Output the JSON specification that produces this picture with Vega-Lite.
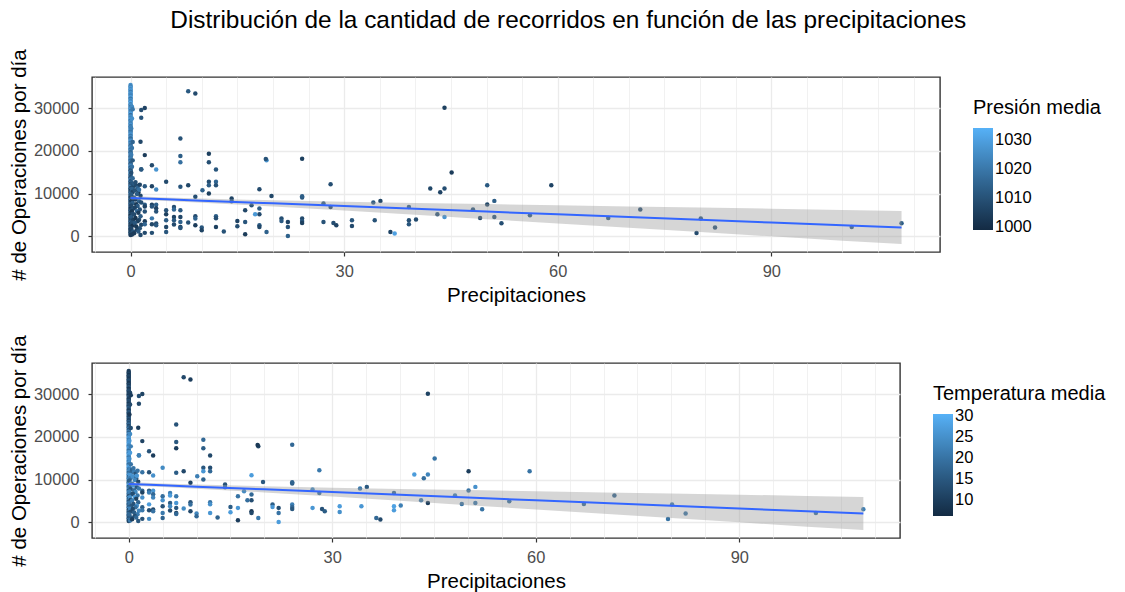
{
  "$schema": "https://vega.github.io/schema/vega-lite/v6.json",
  "padding": {"left": 8, "top": 7, "right": 5, "bottom": 5},
  "background": "white",
  "title": {
    "text": "Distribución de la cantidad de recorridos en función de las precipitaciones",
    "fontSize": 24.4,
    "fontWeight": "normal",
    "font": "Liberation Sans",
    "color": "#000000",
    "anchor": "middle",
    "offset": 15
  },
  "datasets": {
    "dias": [
      {"prec": 0, "ops": 35480, "pres": 1026, "temp": 10},
      {"prec": 0, "ops": 35150, "pres": 1022, "temp": 9},
      {"prec": 0, "ops": 34820, "pres": 1028, "temp": 11},
      {"prec": 0, "ops": 34500, "pres": 1024, "temp": 8},
      {"prec": 0, "ops": 34170, "pres": 1030, "temp": 12},
      {"prec": 0, "ops": 33900, "pres": 1021, "temp": 10},
      {"prec": 0, "ops": 33560, "pres": 1027, "temp": 9},
      {"prec": 0, "ops": 33250, "pres": 1025, "temp": 13},
      {"prec": 0, "ops": 32930, "pres": 1023, "temp": 11},
      {"prec": 0, "ops": 32600, "pres": 1029, "temp": 8},
      {"prec": 0, "ops": 32280, "pres": 1020, "temp": 12},
      {"prec": 0, "ops": 31950, "pres": 1026, "temp": 10},
      {"prec": 0, "ops": 31640, "pres": 1024, "temp": 14},
      {"prec": 0, "ops": 31300, "pres": 1031, "temp": 9},
      {"prec": 0, "ops": 30980, "pres": 1022, "temp": 11},
      {"prec": 0, "ops": 30650, "pres": 1027, "temp": 13},
      {"prec": 0, "ops": 30330, "pres": 1019, "temp": 10},
      {"prec": 0, "ops": 30010, "pres": 1025, "temp": 12},
      {"prec": 0, "ops": 29700, "pres": 1028, "temp": 9},
      {"prec": 0, "ops": 29380, "pres": 1021, "temp": 15},
      {"prec": 0, "ops": 29050, "pres": 1024, "temp": 11},
      {"prec": 0, "ops": 28730, "pres": 1030, "temp": 10},
      {"prec": 0, "ops": 28420, "pres": 1018, "temp": 13},
      {"prec": 0, "ops": 28090, "pres": 1026, "temp": 12},
      {"prec": 0, "ops": 27760, "pres": 1023, "temp": 9},
      {"prec": 0, "ops": 27450, "pres": 1029, "temp": 14},
      {"prec": 0, "ops": 27120, "pres": 1020, "temp": 11},
      {"prec": 0, "ops": 26800, "pres": 1025, "temp": 16},
      {"prec": 0, "ops": 26470, "pres": 1022, "temp": 12},
      {"prec": 0, "ops": 26150, "pres": 1027, "temp": 10},
      {"prec": 0, "ops": 25830, "pres": 1019, "temp": 15},
      {"prec": 0, "ops": 25500, "pres": 1024, "temp": 13},
      {"prec": 0, "ops": 25170, "pres": 1021, "temp": 11},
      {"prec": 0, "ops": 24850, "pres": 1026, "temp": 17},
      {"prec": 0, "ops": 24530, "pres": 1018, "temp": 12},
      {"prec": 0, "ops": 24200, "pres": 1023, "temp": 14},
      {"prec": 0, "ops": 23880, "pres": 1028, "temp": 10},
      {"prec": 0, "ops": 23560, "pres": 1020, "temp": 16},
      {"prec": 0, "ops": 23240, "pres": 1025, "temp": 13},
      {"prec": 0, "ops": 22910, "pres": 1017, "temp": 18},
      {"prec": 0, "ops": 22600, "pres": 1022, "temp": 12},
      {"prec": 0, "ops": 22270, "pres": 1027, "temp": 15},
      {"prec": 0, "ops": 21950, "pres": 1019, "temp": 20},
      {"prec": 0, "ops": 21620, "pres": 1024, "temp": 14},
      {"prec": 0, "ops": 21300, "pres": 1016, "temp": 22},
      {"prec": 0, "ops": 20980, "pres": 1021, "temp": 17},
      {"prec": 0, "ops": 20650, "pres": 1026, "temp": 25},
      {"prec": 0, "ops": 20330, "pres": 1018, "temp": 19},
      {"prec": 0, "ops": 20000, "pres": 1023, "temp": 24},
      {"prec": 0, "ops": 19680, "pres": 1015, "temp": 27},
      {"prec": 0, "ops": 19360, "pres": 1020, "temp": 23},
      {"prec": 0, "ops": 19030, "pres": 1025, "temp": 21},
      {"prec": 0, "ops": 18710, "pres": 1013, "temp": 26},
      {"prec": 0, "ops": 18380, "pres": 1019, "temp": 28},
      {"prec": 0, "ops": 18060, "pres": 1022, "temp": 24},
      {"prec": 0, "ops": 17740, "pres": 1016, "temp": 22},
      {"prec": 0, "ops": 17410, "pres": 1021, "temp": 27},
      {"prec": 0, "ops": 17090, "pres": 1011, "temp": 25},
      {"prec": 0, "ops": 16770, "pres": 1018, "temp": 20},
      {"prec": 0, "ops": 16440, "pres": 1024, "temp": 26},
      {"prec": 0, "ops": 16120, "pres": 1014, "temp": 23},
      {"prec": 0, "ops": 15800, "pres": 1020, "temp": 28},
      {"prec": 0, "ops": 15470, "pres": 1009, "temp": 24},
      {"prec": 0, "ops": 15150, "pres": 1017, "temp": 21},
      {"prec": 0, "ops": 14830, "pres": 1023, "temp": 27},
      {"prec": 0, "ops": 14500, "pres": 1012, "temp": 25},
      {"prec": 0, "ops": 14180, "pres": 1019, "temp": 22},
      {"prec": 0, "ops": 13860, "pres": 1008, "temp": 26},
      {"prec": 0, "ops": 13530, "pres": 1015, "temp": 19},
      {"prec": 0, "ops": 13210, "pres": 1021, "temp": 24},
      {"prec": 0, "ops": 12890, "pres": 1010, "temp": 28},
      {"prec": 0, "ops": 12560, "pres": 1016, "temp": 23},
      {"prec": 0, "ops": 12240, "pres": 1006, "temp": 20},
      {"prec": 0, "ops": 11920, "pres": 1013, "temp": 25},
      {"prec": 0, "ops": 11600, "pres": 1019, "temp": 18},
      {"prec": 0, "ops": 11270, "pres": 1007, "temp": 22},
      {"prec": 0, "ops": 10950, "pres": 1014, "temp": 26},
      {"prec": 0, "ops": 10620, "pres": 1004, "temp": 17},
      {"prec": 0, "ops": 10300, "pres": 1011, "temp": 21},
      {"prec": 0, "ops": 9980, "pres": 1017, "temp": 24},
      {"prec": 0, "ops": 9650, "pres": 1008, "temp": 19},
      {"prec": 0, "ops": 9330, "pres": 1013, "temp": 15},
      {"prec": 0, "ops": 9010, "pres": 1005, "temp": 22},
      {"prec": 0, "ops": 8690, "pres": 1010, "temp": 27},
      {"prec": 0, "ops": 8360, "pres": 1016, "temp": 16},
      {"prec": 0, "ops": 8040, "pres": 1003, "temp": 20},
      {"prec": 0, "ops": 7710, "pres": 1009, "temp": 23},
      {"prec": 0, "ops": 7390, "pres": 1014, "temp": 14},
      {"prec": 0, "ops": 7070, "pres": 1006, "temp": 25},
      {"prec": 0, "ops": 6740, "pres": 1011, "temp": 18},
      {"prec": 0, "ops": 6420, "pres": 1002, "temp": 21},
      {"prec": 0, "ops": 6100, "pres": 1008, "temp": 13},
      {"prec": 0, "ops": 5770, "pres": 1013, "temp": 24},
      {"prec": 0, "ops": 5450, "pres": 1005, "temp": 17},
      {"prec": 0, "ops": 5130, "pres": 1010, "temp": 20},
      {"prec": 0, "ops": 4800, "pres": 1001, "temp": 15},
      {"prec": 0, "ops": 4480, "pres": 1007, "temp": 22},
      {"prec": 0, "ops": 4160, "pres": 1012, "temp": 12},
      {"prec": 0, "ops": 3830, "pres": 1004, "temp": 19},
      {"prec": 0, "ops": 3510, "pres": 1009, "temp": 16},
      {"prec": 0, "ops": 3190, "pres": 1015, "temp": 23},
      {"prec": 0, "ops": 2860, "pres": 1003, "temp": 11},
      {"prec": 0, "ops": 2540, "pres": 1008, "temp": 18},
      {"prec": 0, "ops": 2220, "pres": 1006, "temp": 14},
      {"prec": 0, "ops": 1890, "pres": 1011, "temp": 20},
      {"prec": 0, "ops": 1570, "pres": 1002, "temp": 12},
      {"prec": 0, "ops": 1250, "pres": 1007, "temp": 17},
      {"prec": 0, "ops": 920, "pres": 1005, "temp": 13},
      {"prec": 0, "ops": 600, "pres": 1010, "temp": 19},
      {"prec": 0, "ops": 280, "pres": 1004, "temp": 11},
      {"prec": 0.2, "ops": 30400, "pres": 1024, "temp": 11},
      {"prec": 0.3, "ops": 29800, "pres": 1020, "temp": 10},
      {"prec": 0.2, "ops": 27600, "pres": 1026, "temp": 12},
      {"prec": 0.1, "ops": 25300, "pres": 1022, "temp": 9},
      {"prec": 0.3, "ops": 22100, "pres": 1015, "temp": 13},
      {"prec": 0.2, "ops": 20700, "pres": 1019, "temp": 24},
      {"prec": 0.1, "ops": 19100, "pres": 1021, "temp": 26},
      {"prec": 0.3, "ops": 17800, "pres": 1012, "temp": 22},
      {"prec": 0.2, "ops": 16300, "pres": 1018, "temp": 27},
      {"prec": 0.1, "ops": 14900, "pres": 1009, "temp": 25},
      {"prec": 0.3, "ops": 13600, "pres": 1016, "temp": 20},
      {"prec": 0.2, "ops": 12400, "pres": 1011, "temp": 23},
      {"prec": 0.4, "ops": 11800, "pres": 1007, "temp": 18},
      {"prec": 0.2, "ops": 11100, "pres": 1014, "temp": 26},
      {"prec": 0.3, "ops": 10400, "pres": 1006, "temp": 21},
      {"prec": 0.1, "ops": 9800, "pres": 1012, "temp": 16},
      {"prec": 0.4, "ops": 9100, "pres": 1009, "temp": 24},
      {"prec": 0.2, "ops": 8400, "pres": 1004, "temp": 19},
      {"prec": 0.3, "ops": 7800, "pres": 1013, "temp": 14},
      {"prec": 0.1, "ops": 7200, "pres": 1007, "temp": 22},
      {"prec": 0.4, "ops": 6500, "pres": 1010, "temp": 17},
      {"prec": 0.2, "ops": 5900, "pres": 1003, "temp": 25},
      {"prec": 0.3, "ops": 5200, "pres": 1008, "temp": 12},
      {"prec": 0.1, "ops": 4600, "pres": 1012, "temp": 20},
      {"prec": 0.4, "ops": 3900, "pres": 1005, "temp": 15},
      {"prec": 0.2, "ops": 3200, "pres": 1009, "temp": 23},
      {"prec": 0.3, "ops": 2500, "pres": 1002, "temp": 13},
      {"prec": 0.1, "ops": 1800, "pres": 1006, "temp": 18},
      {"prec": 0.4, "ops": 1100, "pres": 1011, "temp": 16},
      {"prec": 0.2, "ops": 400, "pres": 1004, "temp": 21},
      {"prec": 0.5, "ops": 12300, "pres": 1012, "temp": 17},
      {"prec": 0.8, "ops": 11900, "pres": 1008, "temp": 22},
      {"prec": 1.0, "ops": 11400, "pres": 1015, "temp": 14},
      {"prec": 1.3, "ops": 12100, "pres": 1006, "temp": 20},
      {"prec": 0.6, "ops": 10800, "pres": 1010, "temp": 25},
      {"prec": 1.1, "ops": 10300, "pres": 1004, "temp": 16},
      {"prec": 0.9, "ops": 9900, "pres": 1013, "temp": 23},
      {"prec": 1.4, "ops": 9500, "pres": 1007, "temp": 12},
      {"prec": 0.5, "ops": 9000, "pres": 1011, "temp": 19},
      {"prec": 0.7, "ops": 8600, "pres": 1005, "temp": 26},
      {"prec": 1.2, "ops": 8200, "pres": 1014, "temp": 15},
      {"prec": 1.5, "ops": 7900, "pres": 1009, "temp": 21},
      {"prec": 0.8, "ops": 7500, "pres": 1003, "temp": 18},
      {"prec": 1.0, "ops": 7100, "pres": 1012, "temp": 24},
      {"prec": 0.6, "ops": 6700, "pres": 1006, "temp": 13},
      {"prec": 1.3, "ops": 6300, "pres": 1010, "temp": 20},
      {"prec": 0.9, "ops": 5900, "pres": 1016, "temp": 27},
      {"prec": 1.1, "ops": 5500, "pres": 1004, "temp": 11},
      {"prec": 0.5, "ops": 5100, "pres": 1008, "temp": 22},
      {"prec": 1.4, "ops": 4700, "pres": 1013, "temp": 17},
      {"prec": 0.7, "ops": 4300, "pres": 1002, "temp": 14},
      {"prec": 1.2, "ops": 3900, "pres": 1009, "temp": 25},
      {"prec": 1.0, "ops": 3500, "pres": 1005, "temp": 19},
      {"prec": 0.6, "ops": 3100, "pres": 1011, "temp": 12},
      {"prec": 1.5, "ops": 2700, "pres": 1007, "temp": 23},
      {"prec": 0.8, "ops": 2300, "pres": 1003, "temp": 16},
      {"prec": 1.3, "ops": 1900, "pres": 1010, "temp": 21},
      {"prec": 0.9, "ops": 1500, "pres": 1006, "temp": 13},
      {"prec": 1.1, "ops": 1100, "pres": 1012, "temp": 18},
      {"prec": 0.5, "ops": 700, "pres": 1004, "temp": 10},
      {"prec": 1.4, "ops": 300, "pres": 1008, "temp": 15},
      {"prec": 1.5, "ops": 15700, "pres": 1010, "temp": 22},
      {"prec": 1.2, "ops": 10900, "pres": 1018, "temp": 26},
      {"prec": 0.7, "ops": 12700, "pres": 1009, "temp": 20},
      {"prec": 8.1, "ops": 34000, "pres": 1012, "temp": 12},
      {"prec": 9.1, "ops": 33500, "pres": 1008, "temp": 10},
      {"prec": 2.0, "ops": 30100, "pres": 1006, "temp": 11},
      {"prec": 1.5, "ops": 29600, "pres": 1009, "temp": 13},
      {"prec": 1.5, "ops": 27800, "pres": 1011, "temp": 12},
      {"prec": 1.4, "ops": 22150, "pres": 1007, "temp": 10},
      {"prec": 7.0, "ops": 22950, "pres": 1010, "temp": 14},
      {"prec": 2.0, "ops": 19030, "pres": 1004, "temp": 11},
      {"prec": 7.0, "ops": 18830, "pres": 1013, "temp": 15},
      {"prec": 7.0, "ops": 17350, "pres": 1018, "temp": 10},
      {"prec": 11.0, "ops": 19330, "pres": 1005, "temp": 18},
      {"prec": 11.0, "ops": 17350, "pres": 1009, "temp": 16},
      {"prec": 12.0, "ops": 15660, "pres": 1011, "temp": 12},
      {"prec": 3.0, "ops": 16680, "pres": 1008, "temp": 14},
      {"prec": 3.6, "ops": 15660, "pres": 1027, "temp": 10},
      {"prec": 1.5, "ops": 15660, "pres": 1012, "temp": 22},
      {"prec": 19.1, "ops": 17850, "pres": 1026, "temp": 11},
      {"prec": 19.0, "ops": 18150, "pres": 1010, "temp": 9},
      {"prec": 24.1, "ops": 18160, "pres": 1005, "temp": 18},
      {"prec": 28.1, "ops": 12210, "pres": 1009, "temp": 21},
      {"prec": 19.8, "ops": 9470, "pres": 1007, "temp": 15},
      {"prec": 18.1, "ops": 11040, "pres": 1008, "temp": 27},
      {"prec": 24.1, "ops": 9080, "pres": 1011, "temp": 16},
      {"prec": 14.2, "ops": 8850, "pres": 1006, "temp": 14},
      {"prec": 14.2, "ops": 8230, "pres": 1012, "temp": 20},
      {"prec": 11.0, "ops": 12760, "pres": 1009, "temp": 15},
      {"prec": 11.0, "ops": 11980, "pres": 1013, "temp": 26},
      {"prec": 12.0, "ops": 12760, "pres": 1015, "temp": 13},
      {"prec": 12.0, "ops": 11980, "pres": 1010, "temp": 18},
      {"prec": 8.1, "ops": 11980, "pres": 1007, "temp": 12},
      {"prec": 7.0, "ops": 11590, "pres": 1011, "temp": 16},
      {"prec": 5.0, "ops": 12760, "pres": 1008, "temp": 24},
      {"prec": 3.0, "ops": 11740, "pres": 1006, "temp": 14},
      {"prec": 2.0, "ops": 11740, "pres": 1012, "temp": 20},
      {"prec": 3.6, "ops": 10960, "pres": 1024, "temp": 25},
      {"prec": 11.0, "ops": 10020, "pres": 1005, "temp": 17},
      {"prec": 10.1, "ops": 10810, "pres": 1014, "temp": 22},
      {"prec": 9.1, "ops": 9250, "pres": 1009, "temp": 11},
      {"prec": 16.1, "ops": 6110, "pres": 1007, "temp": 20},
      {"prec": 17.0, "ops": 7280, "pres": 1010, "temp": 24},
      {"prec": 18.1, "ops": 6500, "pres": 1013, "temp": 18},
      {"prec": 18.1, "ops": 5170, "pres": 1008, "temp": 13},
      {"prec": 17.5, "ops": 5170, "pres": 1028, "temp": 19},
      {"prec": 16.1, "ops": 3370, "pres": 1011, "temp": 26},
      {"prec": 15.0, "ops": 3600, "pres": 1006, "temp": 16},
      {"prec": 15.0, "ops": 2350, "pres": 1009, "temp": 27},
      {"prec": 16.1, "ops": 470, "pres": 1004, "temp": 10},
      {"prec": 18.1, "ops": 2580, "pres": 1012, "temp": 9},
      {"prec": 18.1, "ops": 2190, "pres": 1007, "temp": 12},
      {"prec": 19.1, "ops": 1020, "pres": 1014, "temp": 21},
      {"prec": 13.1, "ops": 1100, "pres": 1010, "temp": 17},
      {"prec": 12.0, "ops": 2190, "pres": 1005, "temp": 26},
      {"prec": 12.0, "ops": 4700, "pres": 1013, "temp": 20},
      {"prec": 12.0, "ops": 4230, "pres": 1009, "temp": 25},
      {"prec": 10.0, "ops": 2040, "pres": 1011, "temp": 23},
      {"prec": 10.0, "ops": 1410, "pres": 1006, "temp": 18},
      {"prec": 9.1, "ops": 4700, "pres": 1008, "temp": 14},
      {"prec": 9.1, "ops": 4150, "pres": 1015, "temp": 19},
      {"prec": 9.1, "ops": 2580, "pres": 1004, "temp": 12},
      {"prec": 8.1, "ops": 3210, "pres": 1010, "temp": 24},
      {"prec": 7.0, "ops": 6110, "pres": 1012, "temp": 21},
      {"prec": 7.0, "ops": 4540, "pres": 1007, "temp": 26},
      {"prec": 7.0, "ops": 3370, "pres": 1014, "temp": 15},
      {"prec": 7.0, "ops": 2190, "pres": 1005, "temp": 11},
      {"prec": 7.0, "ops": 1960, "pres": 1011, "temp": 18},
      {"prec": 6.1, "ops": 6890, "pres": 1009, "temp": 22},
      {"prec": 6.1, "ops": 6270, "pres": 1016, "temp": 27},
      {"prec": 6.1, "ops": 4540, "pres": 1006, "temp": 16},
      {"prec": 6.1, "ops": 3760, "pres": 1012, "temp": 24},
      {"prec": 6.1, "ops": 2740, "pres": 1008, "temp": 13},
      {"prec": 5.0, "ops": 6110, "pres": 1010, "temp": 19},
      {"prec": 5.0, "ops": 5170, "pres": 1005, "temp": 25},
      {"prec": 5.0, "ops": 3760, "pres": 1013, "temp": 14},
      {"prec": 5.0, "ops": 2190, "pres": 1007, "temp": 21},
      {"prec": 5.0, "ops": 1020, "pres": 1011, "temp": 17},
      {"prec": 3.6, "ops": 7400, "pres": 1014, "temp": 26},
      {"prec": 3.6, "ops": 6600, "pres": 1006, "temp": 18},
      {"prec": 3.6, "ops": 5800, "pres": 1010, "temp": 23},
      {"prec": 3.6, "ops": 3000, "pres": 1008, "temp": 12},
      {"prec": 3.6, "ops": 2600, "pres": 1012, "temp": 20},
      {"prec": 3.0, "ops": 7400, "pres": 1005, "temp": 15},
      {"prec": 3.0, "ops": 7000, "pres": 1011, "temp": 22},
      {"prec": 3.0, "ops": 4200, "pres": 1020, "temp": 27},
      {"prec": 3.0, "ops": 2800, "pres": 1007, "temp": 13},
      {"prec": 3.0, "ops": 800, "pres": 1009, "temp": 24},
      {"prec": 2.0, "ops": 7400, "pres": 1013, "temp": 18},
      {"prec": 2.0, "ops": 7000, "pres": 1006, "temp": 11},
      {"prec": 2.0, "ops": 5800, "pres": 1010, "temp": 25},
      {"prec": 2.0, "ops": 3500, "pres": 1004, "temp": 16},
      {"prec": 2.0, "ops": 2800, "pres": 1015, "temp": 21},
      {"prec": 2.0, "ops": 800, "pres": 1008, "temp": 14},
      {"prec": 21.2, "ops": 4150, "pres": 1009, "temp": 16},
      {"prec": 21.2, "ops": 3600, "pres": 1012, "temp": 26},
      {"prec": 22.1, "ops": 3370, "pres": 1006, "temp": 13},
      {"prec": 22.1, "ops": 2190, "pres": 1010, "temp": 20},
      {"prec": 22.1, "ops": 70, "pres": 1014, "temp": 27},
      {"prec": 24.1, "ops": 4150, "pres": 1008, "temp": 22},
      {"prec": 24.1, "ops": 3600, "pres": 1011, "temp": 18},
      {"prec": 24.1, "ops": 3130, "pres": 1005, "temp": 15},
      {"prec": 24.1, "ops": 9390, "pres": 1013, "temp": 17},
      {"prec": 27.1, "ops": 3370, "pres": 1010, "temp": 26},
      {"prec": 27.1, "ops": 7670, "pres": 1012, "temp": 24},
      {"prec": 28.1, "ops": 6890, "pres": 1007, "temp": 19},
      {"prec": 28.5, "ops": 3130, "pres": 1009, "temp": 14},
      {"prec": 28.9, "ops": 2580, "pres": 1006, "temp": 16},
      {"prec": 31.1, "ops": 3760, "pres": 1011, "temp": 27},
      {"prec": 31.1, "ops": 2430, "pres": 1008, "temp": 25},
      {"prec": 34.1, "ops": 7910, "pres": 1012, "temp": 21},
      {"prec": 35.1, "ops": 8300, "pres": 1007, "temp": 15},
      {"prec": 34.3, "ops": 3760, "pres": 1010, "temp": 26},
      {"prec": 36.5, "ops": 1020, "pres": 1006, "temp": 18},
      {"prec": 37.1, "ops": 630, "pres": 1030, "temp": 12},
      {"prec": 39.1, "ops": 6890, "pres": 1013, "temp": 18},
      {"prec": 39.1, "ops": 3760, "pres": 1009, "temp": 28},
      {"prec": 39.1, "ops": 2820, "pres": 1011, "temp": 27},
      {"prec": 40.1, "ops": 3910, "pres": 1008, "temp": 22},
      {"prec": 42.1, "ops": 11200, "pres": 1007, "temp": 27},
      {"prec": 43.1, "ops": 5170, "pres": 1010, "temp": 21},
      {"prec": 43.5, "ops": 10340, "pres": 1006, "temp": 19},
      {"prec": 44.1, "ops": 30140, "pres": 1005, "temp": 11},
      {"prec": 44.1, "ops": 11200, "pres": 1009, "temp": 23},
      {"prec": 44.1, "ops": 4540, "pres": 1027, "temp": 10},
      {"prec": 45.1, "ops": 14960, "pres": 1004, "temp": 20},
      {"prec": 48.1, "ops": 6260, "pres": 1011, "temp": 22},
      {"prec": 49.1, "ops": 4300, "pres": 1008, "temp": 20},
      {"prec": 50.1, "ops": 11980, "pres": 1012, "temp": 10},
      {"prec": 50.1, "ops": 7440, "pres": 1007, "temp": 20},
      {"prec": 51.1, "ops": 8300, "pres": 1013, "temp": 25},
      {"prec": 51.1, "ops": 4540, "pres": 1010, "temp": 21},
      {"prec": 52.1, "ops": 3050, "pres": 1009, "temp": 20},
      {"prec": 56.1, "ops": 4930, "pres": 1011, "temp": 19},
      {"prec": 59.1, "ops": 11980, "pres": 1006, "temp": 20},
      {"prec": 67.1, "ops": 4300, "pres": 1012, "temp": 18},
      {"prec": 71.6, "ops": 6260, "pres": 1009, "temp": 17},
      {"prec": 79.5, "ops": 780, "pres": 1008, "temp": 20},
      {"prec": 80.1, "ops": 4150, "pres": 1011, "temp": 21},
      {"prec": 82.1, "ops": 2040, "pres": 1010, "temp": 20},
      {"prec": 101.3, "ops": 2190, "pres": 1012, "temp": 19},
      {"prec": 108.3, "ops": 3050, "pres": 1013, "temp": 22}
    ],
    "ajuste": [
      {"prec": 0, "ajuste": 9000, "inf": 8580, "sup": 9420},
      {"prec": 5, "ajuste": 8679, "inf": 8280, "sup": 9080},
      {"prec": 10, "ajuste": 8358, "inf": 7890, "sup": 8830},
      {"prec": 20, "ajuste": 7716, "inf": 7000, "sup": 8440},
      {"prec": 30, "ajuste": 7074, "inf": 6020, "sup": 8120},
      {"prec": 40, "ajuste": 6432, "inf": 5030, "sup": 7830},
      {"prec": 50, "ajuste": 5790, "inf": 4020, "sup": 7560},
      {"prec": 60, "ajuste": 5148, "inf": 3010, "sup": 7290},
      {"prec": 70, "ajuste": 4506, "inf": 2010, "sup": 7010},
      {"prec": 80, "ajuste": 3864, "inf": 990, "sup": 6730},
      {"prec": 90, "ajuste": 3222, "inf": -20, "sup": 6460},
      {"prec": 100, "ajuste": 2580, "inf": -1030, "sup": 6190},
      {"prec": 108.3, "ajuste": 2047, "inf": -1820, "sup": 5920}
    ]
  },
  "vconcat": [
    {
      "width": 848,
      "height": 175,
      "layer": [
        {
          "data": {"name": "dias"},
          "mark": {"type": "circle", "size": 20, "opacity": 1},
          "encoding": {
            "x": {"field": "prec", "type": "quantitative", "scale": {"domain": [-5.415, 113.7], "nice": false, "zero": false}, "title": "Precipitaciones"},
            "y": {"field": "ops", "type": "quantitative", "scale": {"domain": [-3688, 37350], "nice": false, "zero": false}, "title": "# de Operaciones por día"},
            "color": {
              "field": "pres", "type": "quantitative",
              "scale": {"domain": [999, 1034], "range": ["#132B43", "#56B1F7"], "interpolate": "lab"},
              "legend": {"title": "Presión media", "values": [1000, 1010, 1020, 1030], "format": "d"}
            }
          }
        },
        {
          "data": {"name": "ajuste"},
          "mark": {"type": "area", "color": "#999999", "opacity": 0.4},
          "encoding": {
            "x": {"field": "prec", "type": "quantitative"},
            "y": {"field": "inf", "type": "quantitative"},
            "y2": {"field": "sup"}
          }
        },
        {
          "data": {"name": "ajuste"},
          "mark": {"type": "line", "color": "#3366FF", "strokeWidth": 2},
          "encoding": {
            "x": {"field": "prec", "type": "quantitative"},
            "y": {"field": "ajuste", "type": "quantitative"}
          }
        }
      ]
    },
    {
      "width": 808,
      "height": 175,
      "layer": [
        {
          "data": {"name": "dias"},
          "mark": {"type": "circle", "size": 20, "opacity": 1},
          "encoding": {
            "x": {"field": "prec", "type": "quantitative", "scale": {"domain": [-5.415, 113.7], "nice": false, "zero": false}, "title": "Precipitaciones"},
            "y": {"field": "ops", "type": "quantitative", "scale": {"domain": [-3688, 37350], "nice": false, "zero": false}, "title": "# de Operaciones por día"},
            "color": {
              "field": "temp", "type": "quantitative",
              "scale": {"domain": [6.3, 30.4], "range": ["#132B43", "#56B1F7"], "interpolate": "lab"},
              "legend": {"title": "Temperatura media", "values": [10, 15, 20, 25, 30], "format": "d"}
            }
          }
        },
        {
          "data": {"name": "ajuste"},
          "mark": {"type": "area", "color": "#999999", "opacity": 0.4},
          "encoding": {
            "x": {"field": "prec", "type": "quantitative"},
            "y": {"field": "inf", "type": "quantitative"},
            "y2": {"field": "sup"}
          }
        },
        {
          "data": {"name": "ajuste"},
          "mark": {"type": "line", "color": "#3366FF", "strokeWidth": 2},
          "encoding": {
            "x": {"field": "prec", "type": "quantitative"},
            "y": {"field": "ajuste", "type": "quantitative"}
          }
        }
      ]
    }
  ],
  "spacing": 27,
  "resolve": {"scale": {"color": "independent", "x": "independent", "y": "independent"}, "legend": {"color": "independent"}},
  "config": {
    "font": "Liberation Sans",
    "view": {"stroke": "#333333", "strokeWidth": 1.4},
    "axisX": {
      "values": [0, 15, 30, 45, 60, 75, 90, 105],
      "labelExpr": "datum.value % 30 === 0 ? datum.label : ''",
      "labelPadding": 7,
      "tickOpacity": {"condition": {"test": "datum.value % 30 !== 0", "value": 0}, "value": 1},
      "gridWidth": {"condition": {"test": "datum.value % 30 !== 0", "value": 0.7}, "value": 1.3}
    },
    "axisY": {
      "values": [0, 5000, 10000, 15000, 20000, 25000, 30000, 35000],
      "format": "d",
      "labelExpr": "datum.value % 10000 === 0 ? datum.label : ''",
      "labelPadding": 9,
      "titlePadding": 4,
      "tickOpacity": {"condition": {"test": "datum.value % 10000 !== 0", "value": 0}, "value": 1},
      "gridWidth": {"condition": {"test": "datum.value % 10000 !== 0", "value": 0.7}, "value": 1.3}
    },
    "axis": {
      "domain": false,
      "grid": true,
      "gridColor": "#EBEBEB",
      "tickColor": "#333333",
      "tickSize": 4,
      "tickWidth": 1.2,
      "labelColor": "#4D4D4D",
      "labelFont": "Liberation Sans",
      "labelFontSize": 16.4,
      "labelOverlap": false,
      "titleFont": "Liberation Sans",
      "titleFontSize": 20.5,
      "titleFontWeight": "normal",
      "titleColor": "#000000",
      "titlePadding": 6
    },
    "legend": {
      "orient": "right",
      "offset": 12,
      "padding": 21,
      "direction": "vertical",
      "gradientLength": 102,
      "gradientThickness": 20,
      "gradientStrokeWidth": 0,
      "titleFont": "Liberation Sans",
      "titleFontSize": 20,
      "titleFontWeight": "normal",
      "titleColor": "#000000",
      "titlePadding": 10,
      "labelFont": "Liberation Sans",
      "labelFontSize": 16.5,
      "labelColor": "#000000",
      "labelOffset": 9,
      "labelBaseline": "middle",
      "labelOverlap": false
    }
  }
}
